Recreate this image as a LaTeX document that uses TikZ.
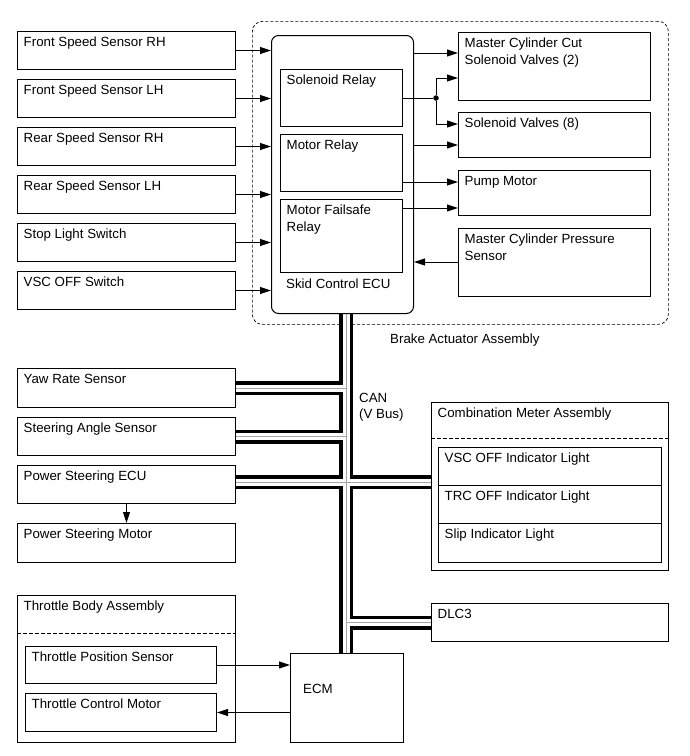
\documentclass[tikz,border=0pt]{standalone}
\usepackage{fontspec}
\setmainfont{Liberation Sans}
\usetikzlibrary{positioning, calc, backgrounds, arrows.meta}
\newcommand{\boxfont}{\fontsize{13.3}{16.5}\selectfont}
\newcommand{\stacktext}[2]{\vtop{\hbox{#1}\hbox{#2}}}
\tikzset{
	plainbox/.style={
			draw,
			line width=1pt,
			rectangle,
			anchor=north west,
			inner sep=0pt
		},
	blockbox/.style={
			plainbox,
			label={[boxtext, xshift=6.5pt, yshift=-15.5pt]north west:#1}
		},
	boxtext/.style={
			anchor=base west,
			inner sep=0pt,
			font=\boxfont
		},
	sigarrow/.style={
			-{Triangle[length=11pt,width=7pt]},
			line width=1pt
		},
	seam/.style={
			line width=0.8pt,
			dash pattern=on 4pt off 2pt
		}
}
\begin{document}
\begin{tikzpicture}[x=1pt, y=-1pt]
				\useasboundingbox (0,0) rectangle (689,756);

				% sensors and switches on the left
				\node[blockbox=Front Speed Sensor RH, minimum width=218pt, minimum height=38pt] (fsrh) at (17,31) {};
				\node[blockbox=Front Speed Sensor LH, minimum width=218pt, minimum height=38pt] (fslh) at (17,79) {};
				\node[blockbox=Rear Speed Sensor RH, minimum width=218pt, minimum height=38pt] (rsrh) at (17,127) {};
				\node[blockbox=Rear Speed Sensor LH, minimum width=218pt, minimum height=38pt] (rslh) at (17,175) {};
				\node[blockbox=Stop Light Switch, minimum width=218pt, minimum height=38pt] (stopsw) at (17,223) {};
				\node[blockbox=VSC OFF Switch, minimum width=218pt, minimum height=38pt] (vscsw) at (17,271) {};

				% brake actuator assembly
				\node[plainbox, minimum width=142pt, minimum height=278pt, rounded corners=7pt] (ecu) at (271,35) {};
				\node[blockbox=Solenoid Relay, minimum width=122pt, minimum height=57pt] (solrelay) at (280,69) {};
				\node[blockbox=Motor Relay, minimum width=122pt, minimum height=57pt] (motrelay) at (280,134) {};
				\node[blockbox={\stacktext{Motor Failsafe}{Relay}}, minimum width=122pt, minimum height=73pt] (failrelay) at (280,199) {};
				\node[boxtext] (ecutext) at (286,288) {Skid Control ECU};

				\node[blockbox={\stacktext{Master Cylinder Cut}{Solenoid Valves (2)}}, minimum width=192pt, minimum height=68pt] (mcvalve) at (458,32) {};
				\node[blockbox=Solenoid Valves (8), minimum width=192pt, minimum height=45pt] (solvalve) at (458,112) {};
				\node[blockbox=Pump Motor, minimum width=192pt, minimum height=45pt] (pump) at (458,170) {};
				\node[blockbox={\stacktext{Master Cylinder Pressure}{Sensor}}, minimum width=192pt, minimum height=68pt] (mcpress) at (458,228) {};
				\node[boxtext] (braketext) at (390,343) {Brake Actuator Assembly};

				% steering
				\node[blockbox=Yaw Rate Sensor, minimum width=218pt, minimum height=39pt] (yaw) at (17,368) {};
				\node[blockbox=Steering Angle Sensor, minimum width=218pt, minimum height=38pt] (steer) at (17,417) {};
				\node[blockbox=Power Steering ECU, minimum width=218pt, minimum height=38pt] (psecu) at (17,465) {};
				\node[blockbox=Power Steering Motor, minimum width=218pt, minimum height=39pt] (psmotor) at (17,523) {};

				% combination meter
				\node[blockbox=Combination Meter Assembly, minimum width=237pt, minimum height=168pt] (meter) at (431,402) {};
				\draw[seam] (meter.west |- 0,438) -- (meter.east |- 0,438);
				\node[blockbox=VSC OFF Indicator Light, minimum width=223pt, minimum height=38pt] (vscind) at (438,447) {};
				\node[blockbox=TRC OFF Indicator Light, minimum width=223pt, minimum height=38pt] (trcind) at (438,485) {};
				\node[blockbox=Slip Indicator Light, minimum width=223pt, minimum height=39pt] (slipind) at (438,523) {};

				\node[blockbox=DLC3, minimum width=237pt, minimum height=38pt] (dlc) at (431,603) {};

				% throttle and engine
				\node[blockbox=Throttle Body Assembly, minimum width=218pt, minimum height=147pt] (throttle) at (17,595) {};
				\draw[seam] (throttle.west |- 0,633) -- (throttle.east |- 0,633);
				\node[blockbox=Throttle Position Sensor, minimum width=191pt, minimum height=37pt] (tps) at (25,646) {};
				\node[blockbox=Throttle Control Motor, minimum width=191pt, minimum height=38pt] (tcm) at (25,693) {};
				\node[plainbox, minimum width=113pt, minimum height=89pt] (ecm) at (290,653) {};
				\node[boxtext] (ecmtext) at (303,693) {ECM};

				\node[boxtext] (cantext) at (359,402) {\stacktext{CAN}{(V Bus)}};

				% signal lines
				\draw[sigarrow] (fsrh.east) -- (fsrh.east -| ecu.west);
				\draw[sigarrow] (fslh.east) -- (fslh.east -| ecu.west);
				\draw[sigarrow] (rsrh.east) -- (rsrh.east -| ecu.west);
				\draw[sigarrow] (rslh.east) -- (rslh.east -| ecu.west);
				\draw[sigarrow] (stopsw.east) -- (stopsw.east -| ecu.west);
				\draw[sigarrow] (vscsw.east) -- (vscsw.east -| ecu.west);

				\node[circle, fill, inner sep=0pt, minimum size=5.5pt] (split) at (436,98) {};
				\draw[line width=1pt] (solrelay.east |- split) -- (split);
				\draw[sigarrow] (split) |- (mcvalve.west |- 0,78);
				\draw[sigarrow] (split) |- (solvalve.west |- 0,124);
				\draw[sigarrow] (ecu.east |- 0,53) -- (mcvalve.west |- 0,53);
				\draw[sigarrow] (ecu.east |- 0,145) -- (solvalve.west |- 0,145);
				\draw[sigarrow] (motrelay.east |- 0,182) -- (pump.west |- 0,182);
				\draw[sigarrow] (failrelay.east |- 0,208) -- (pump.west |- 0,208);
				\draw[sigarrow] (mcpress.west |- 0,262) -- (ecu.east |- 0,262);

				\draw[sigarrow] (psecu.south) -- (psmotor.north);
				\draw[sigarrow] (tps.east) -- (tps.east -| ecm.west);
				\draw[sigarrow] (ecm.west |- tcm.east) -- (tcm.east);

				% CAN bus
				\begin{scope}[on background layer]
					\node[plainbox, line width=0.7pt, dash pattern=on 3pt off 2pt, rounded corners=10pt, minimum width=416pt, minimum height=303pt] (brake) at (252,21) {};
					\coordinate (busx) at (346,0);
					\foreach \w/\c in {14pt/black, 7pt/white, 0.4pt/gray!70} {
						\draw[line width=\w, \c]
							(ecu.south -| busx) -- (ecm.north -| busx)
							(yaw.east) -- (yaw.east -| busx)
							(steer.east) -- (steer.east -| busx)
							(psecu.east |- 0,482) -- (meter.west |- 0,482)
							(dlc.west -| busx) -- (dlc.west);
					}
				\end{scope}

			\end{tikzpicture}
\end{document}
